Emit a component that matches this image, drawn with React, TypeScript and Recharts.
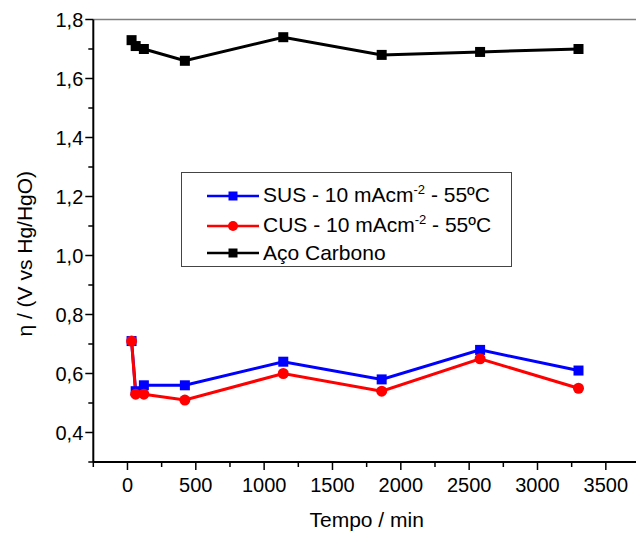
import { LineChart, Line, XAxis, YAxis, Legend, ReferenceLine, Label } from "recharts";

const FONT = '"Liberation Sans", Arial, Helvetica, sans-serif';

// tempo de eletrólise (min) e sobrepotencial medido em cada eletrodo
const tempos = [30, 60, 120, 420, 1140, 1860, 2580, 3300];
const sus = [0.71, 0.54, 0.56, 0.56, 0.64, 0.58, 0.68, 0.61];
const cus = [0.71, 0.53, 0.53, 0.51, 0.6, 0.54, 0.65, 0.55];
const acoCarbono = [1.73, 1.71, 1.7, 1.66, 1.74, 1.68, 1.69, 1.7];

const xTicks = [-250, 0, 250, 500, 750, 1000, 1250, 1500, 1750, 2000, 2250, 2500, 2750, 3000, 3250, 3500, 3750];
const yTicks = [0.3, 0.4, 0.5, 0.6, 0.7, 0.8, 0.9, 1.0, 1.1, 1.2, 1.3, 1.4, 1.5, 1.6, 1.7, 1.8];

const series = [
  { key: "sus", name: "SUS - 10 mAcm", sup: "-2", tail: " - 55ºC", color: "#0000ff", shape: "square" },
  { key: "cus", name: "CUS - 10 mAcm", sup: "-2", tail: " - 55ºC", color: "#ff0000", shape: "circle" },
  { key: "aco", name: "Aço Carbono", sup: "", tail: "", color: "#000000", shape: "square" },
];

const data = tempos.map((t, i) => ({ t, sus: sus[i], cus: cus[i], aco: acoCarbono[i] }));

const squareDot = (color: string) => (props: any) => {
  const { cx, cy, index } = props;
  return <rect key={`sq-${color}-${index}`} x={cx - 5} y={cy - 5} width={10} height={10} fill={color} />;
};

const XTick = ({ x, y, payload }: any) => {
  const v = payload.value;
  const major = v % 500 === 0;
  return (
    <g>
      <line x1={x} x2={x} y1={y} y2={y + (major ? 8 : 5)} stroke="#000" strokeWidth={1.5} />
      {major && (
        <text x={x} y={y + 30} textAnchor="middle" fontSize={20} fontFamily={FONT} fill="#000">
          {v}
        </text>
      )}
    </g>
  );
};

const YTick = ({ x, y, payload }: any) => {
  const v = payload.value;
  const major = Math.round(v * 10) % 2 === 0;
  return (
    <g>
      <line x1={x - (major ? 8 : 5)} x2={x} y1={y} y2={y} stroke="#000" strokeWidth={1.5} />
      {major && (
        <text x={x - 10} y={y + 7} textAnchor="end" fontSize={20} fontFamily={FONT} fill="#000">
          {v.toFixed(1).replace(".", ",")}
        </text>
      )}
    </g>
  );
};

// rotated axis title, sitting a little below the plot's middle
const YTitle = ({ viewBox }: any) => {
  const cx = 24;
  const cy = viewBox.y + viewBox.height / 2 + 13;
  return (
    <text
      x={cx}
      y={cy}
      transform={`rotate(-90 ${cx} ${cy})`}
      textAnchor="middle"
      dominantBaseline="central"
      fontSize={21}
      fontFamily={FONT}
      fill="#000"
    >
      η / (V vs Hg/HgO)
    </text>
  );
};

const LegendMarker = ({ color, shape }: { color: string; shape: string }) => (
  <svg width={52} height={14} style={{ display: "block" }}>
    <line x1={0} x2={52} y1={7} y2={7} stroke={color} strokeWidth={2.5} />
    {shape === "circle" ? (
      <circle cx={26} cy={7} r={5} fill={color} />
    ) : (
      <rect x={21.5} y={2.5} width={9} height={9} fill={color} />
    )}
  </svg>
);

const rowTops = [11, 41, 68];

const LegendBox = () => (
  <div
    style={{
      position: "relative",
      width: 331,
      height: 95,
      boxSizing: "border-box",
      border: "1px solid #444",
      background: "#fff",
      fontFamily: FONT,
      fontSize: 21,
      color: "#000",
    }}
  >
    {series.map((s, i) => (
      <div
        key={s.key}
        style={{ position: "absolute", left: 25, top: rowTops[i], height: 24, display: "flex", alignItems: "center", whiteSpace: "nowrap" }}
      >
        <LegendMarker color={s.color} shape={s.shape} />
        <span style={{ marginLeft: 4, lineHeight: "24px" }}>
          {s.name}
          {s.sup && <span style={{ fontSize: 13, position: "relative", top: -8 }}>{s.sup}</span>}
          {s.tail}
        </span>
      </div>
    ))}
  </div>
);

export default function App() {
  return (
    <div style={{ position: "absolute", left: 0, top: 0, width: 636, height: 533, overflow: "hidden", background: "#fff" }}>
      <LineChart width={660} height={533} data={data} margin={{ top: 19.5, right: 20, bottom: 0, left: 0.3 }}>
        <ReferenceLine y={1.8} stroke="#808080" strokeWidth={1.5} ifOverflow="extendDomain" />
        <XAxis
          dataKey="t"
          type="number"
          domain={[-250, 3750]}
          ticks={xTicks}
          interval={0}
          height={71}
          tickSize={0}
          tickMargin={0}
          tickLine={false}
          axisLine={{ stroke: "#000", strokeWidth: 2 }}
          tick={<XTick />}
          allowDataOverflow
        >
          <Label
            value="Tempo / min"
            position="insideBottom"
            offset={6}
            style={{ fontFamily: FONT, fontSize: 21, fill: "#000" }}
          />
        </XAxis>
        <YAxis
          type="number"
          domain={[0.3, 1.8]}
          ticks={yTicks}
          interval={0}
          width={93}
          tickSize={0}
          tickMargin={0}
          tickLine={false}
          axisLine={{ stroke: "#000", strokeWidth: 2 }}
          tick={<YTick />}
          allowDataOverflow
        >
          <Label content={<YTitle />} />
        </YAxis>
        <Legend
          layout="vertical"
          align="center"
          verticalAlign="middle"
          content={<LegendBox />}
          wrapperStyle={{ left: 181, top: 172, width: 331, height: 95 }}
        />
        <Line
          dataKey="sus"
          name="SUS"
          stroke="#0000ff"
          strokeWidth={3}
          dot={squareDot("#0000ff")}
          isAnimationActive={false}
        />
        <Line
          dataKey="cus"
          name="CUS"
          stroke="#ff0000"
          strokeWidth={3}
          dot={{ r: 5.5, fill: "#ff0000", stroke: "#ff0000", strokeWidth: 0 }}
          isAnimationActive={false}
        />
        <Line
          dataKey="aco"
          name="Aço Carbono"
          stroke="#000000"
          strokeWidth={3}
          dot={squareDot("#000000")}
          isAnimationActive={false}
        />
      </LineChart>
    </div>
  );
}
